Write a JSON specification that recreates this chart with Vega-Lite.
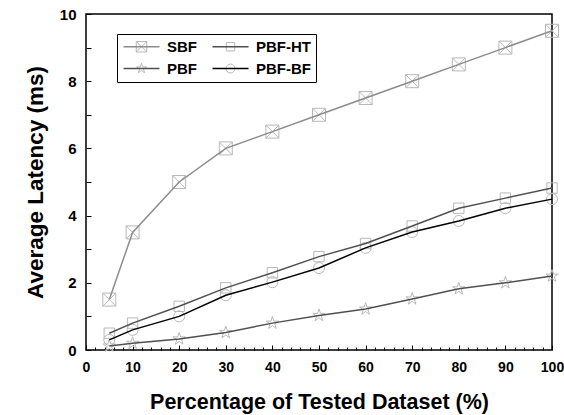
{
  "$schema": "https://vega.github.io/schema/vega-lite/v6.json",
  "width": 466,
  "height": 336,
  "autosize": {"type": "none"},
  "padding": {"left": 86, "top": 14, "right": 12, "bottom": 65},
  "background": "white",
  "config": {"view": {"stroke": "#000", "strokeWidth": 1.5}, "font": "Liberation Sans"},
  "data": {"values": [
    {"pct": 5, "latency": 1.5, "series": "SBF"},
    {"pct": 10, "latency": 3.5, "series": "SBF"},
    {"pct": 20, "latency": 5.0, "series": "SBF"},
    {"pct": 30, "latency": 6.0, "series": "SBF"},
    {"pct": 40, "latency": 6.5, "series": "SBF"},
    {"pct": 50, "latency": 7.0, "series": "SBF"},
    {"pct": 60, "latency": 7.5, "series": "SBF"},
    {"pct": 70, "latency": 8.0, "series": "SBF"},
    {"pct": 80, "latency": 8.5, "series": "SBF"},
    {"pct": 90, "latency": 9.0, "series": "SBF"},
    {"pct": 100, "latency": 9.5, "series": "SBF"},
    {"pct": 5, "latency": 0.5, "series": "PBF-HT"},
    {"pct": 10, "latency": 0.8, "series": "PBF-HT"},
    {"pct": 20, "latency": 1.3, "series": "PBF-HT"},
    {"pct": 30, "latency": 1.85, "series": "PBF-HT"},
    {"pct": 40, "latency": 2.3, "series": "PBF-HT"},
    {"pct": 50, "latency": 2.78, "series": "PBF-HT"},
    {"pct": 60, "latency": 3.17, "series": "PBF-HT"},
    {"pct": 70, "latency": 3.69, "series": "PBF-HT"},
    {"pct": 80, "latency": 4.22, "series": "PBF-HT"},
    {"pct": 90, "latency": 4.52, "series": "PBF-HT"},
    {"pct": 100, "latency": 4.82, "series": "PBF-HT"},
    {"pct": 5, "latency": 0.12, "series": "PBF"},
    {"pct": 10, "latency": 0.2, "series": "PBF"},
    {"pct": 20, "latency": 0.33, "series": "PBF"},
    {"pct": 30, "latency": 0.52, "series": "PBF"},
    {"pct": 40, "latency": 0.8, "series": "PBF"},
    {"pct": 50, "latency": 1.03, "series": "PBF"},
    {"pct": 60, "latency": 1.22, "series": "PBF"},
    {"pct": 70, "latency": 1.52, "series": "PBF"},
    {"pct": 80, "latency": 1.82, "series": "PBF"},
    {"pct": 90, "latency": 2.0, "series": "PBF"},
    {"pct": 100, "latency": 2.2, "series": "PBF"},
    {"pct": 5, "latency": 0.3, "series": "PBF-BF"},
    {"pct": 10, "latency": 0.6, "series": "PBF-BF"},
    {"pct": 20, "latency": 1.0, "series": "PBF-BF"},
    {"pct": 30, "latency": 1.63, "series": "PBF-BF"},
    {"pct": 40, "latency": 2.02, "series": "PBF-BF"},
    {"pct": 50, "latency": 2.44, "series": "PBF-BF"},
    {"pct": 60, "latency": 3.04, "series": "PBF-BF"},
    {"pct": 70, "latency": 3.51, "series": "PBF-BF"},
    {"pct": 80, "latency": 3.84, "series": "PBF-BF"},
    {"pct": 90, "latency": 4.22, "series": "PBF-BF"},
    {"pct": 100, "latency": 4.49, "series": "PBF-BF"}
  ]},
  "encoding": {
    "x": {"field": "pct", "type": "quantitative", "scale": {"domain": [0, 100], "nice": false},
      "axis": {"orient": "bottom", "values": [0,2,4,6,8,10,12,14,16,18,20,22,24,26,28,30,32,34,36,38,40,42,44,46,48,50,52,54,56,58,60,62,64,66,68,70,72,74,76,78,80,82,84,86,88,90,92,94,96,98,100],
        "labelExpr": "datum.value % 10 === 0 ? datum.label : ''", "labelFlush": false, "labelOverlap": false,
        "ticks": true, "tickColor": "#000", "tickWidth": 1,
        "tickSize": {"condition": {"test": "datum.value % 10 === 0", "value": -5}, "value": -3},
        "domain": false, "grid": false,
        "labelFontSize": 14, "labelFontWeight": "bold", "labelColor": "#000", "labelPadding": 15,
        "title": "Percentage of Tested Dataset (%)", "titleFontSize": 21.5, "titleFontWeight": "bold", "titleColor": "#000", "titlePadding": 15}},
    "y": {"field": "latency", "type": "quantitative", "scale": {"domain": [0, 10], "nice": false},
      "axis": {"orient": "left", "values": [0,1,2,3,4,5,6,7,8,9,10],
        "labelExpr": "datum.value % 2 === 0 ? datum.label : ''", "labelFlush": false, "labelOverlap": false,
        "ticks": true, "tickColor": "#000", "tickWidth": 1, "tickSize": -5,
        "domain": false, "grid": false,
        "labelFontSize": 15, "labelFontWeight": "bold", "labelColor": "#000", "labelPadding": 15,
        "title": "Average Latency (ms)", "titleFontSize": 22.5, "titleFontWeight": "bold", "titleColor": "#000", "titlePadding": 12}}
  },
  "layer": [
    {
      "mark": {"type": "point", "filled": false, "stroke": "#b8b8b8", "strokeWidth": 1, "size": 169, "opacity": 1},
      "encoding": {
        "shape": {"field": "series", "type": "nominal", "sort": ["SBF", "PBF-HT", "PBF", "PBF-BF"],
          "scale": {"range": [
            "M-1,-1L1,-1L1,1L-1,1Z M-1,-1L1,1 M1,-1L-1,1",
            "M-0.8,-0.8L0.8,-0.8L0.8,0.8L-0.8,0.8Z",
            "M0,-1L0.225,-0.309L0.951,-0.309L0.363,0.118L0.588,0.809L0,0.382L-0.588,0.809L-0.363,0.118L-0.951,-0.309L-0.225,-0.309Z",
            "M0.85,0A0.85,0.85 0 1,1 -0.85,0A0.85,0.85 0 1,1 0.85,0Z"
          ]},
          "legend": {"orient": "none", "legendX": 43, "legendY": 20, "columns": 2, "direction": "horizontal", "title": null,
            "symbolSize": 110, "symbolStrokeWidth": 1, "symbolStrokeColor": "#b8b8b8", "symbolFillColor": "transparent",
            "labelExpr": "''", "labelFontSize": 15, "labelFontWeight": "bold", "labelOffset": 61.5,
            "columnPadding": 12, "rowPadding": 6, "padding": 5}}
      }
    },
    {
      "mark": {"type": "line", "strokeWidth": 1.5},
      "encoding": {
        "color": {"field": "series", "type": "nominal",
          "scale": {"domain": ["SBF", "PBF-HT", "PBF", "PBF-BF"], "range": ["#8c8c8c", "#505050", "#505050", "#000000"]},
          "legend": {"orient": "none", "legendX": 31, "legendY": 20, "columns": 2, "direction": "horizontal", "title": null,
            "symbolType": "M-1,0L5,0", "symbolSize": 144, "symbolStrokeWidth": 1.5,
            "labelFontSize": 15, "labelFontWeight": "bold", "labelColor": "#000", "labelOffset": 30,
            "columnPadding": 12, "rowPadding": 6, "padding": 5, "strokeColor": "#000"}}
      }
    }
  ]
}
